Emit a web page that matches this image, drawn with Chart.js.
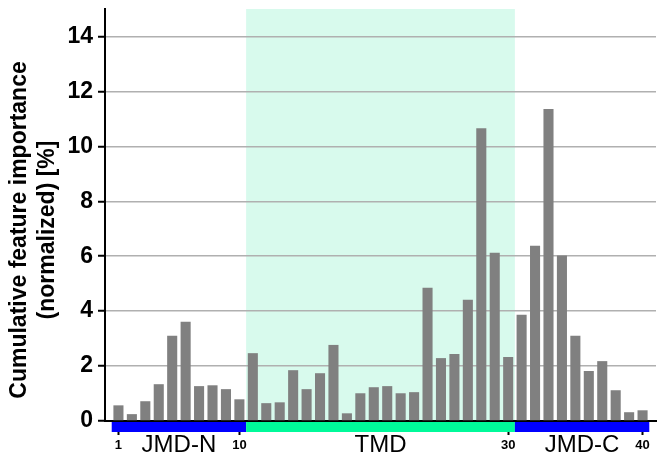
<!DOCTYPE html>
<html>
<head>
<meta charset="utf-8">
<script src="https://cdn.jsdelivr.net/npm/chart.js@4"></script>
<style>
  html, body { margin: 0; padding: 0; background: #fff; }
  #wrap { width: 666px; height: 466px; }
</style>
</head>
<body>
<div id="wrap"><canvas id="chart"></canvas></div>
<script>
// positions 1..40 and the importance
const positions = Array.from({ length: 40 }, (_, i) => i + 1)
const importance = [
    0.57, 0.25, 0.72, 1.34, 3.10, 3.61, 1.27, 1.30, 1.16, 0.79,
    2.47, 0.65, 0.68, 1.85, 1.16, 1.74, 2.77, 0.28, 1.01, 1.23,
    1.27, 1.01, 1.05, 4.85, 2.29, 2.44, 4.41, 10.66, 6.13, 2.33,
    3.87, 6.38, 11.36, 6.03, 3.10, 1.82, 2.18, 1.12, 0.32, 0.39
]
const xTicks = [1, 10, 30, 40]
const yTicks = [0, 2, 4, 6, 8, 10, 12, 14]
const yTitle = ['Cumulative feature importance', '(normalized) [%]']

// parts of the sequence
const regionNames = ['JMD-N', 'TMD', 'JMD-C']
const regionStart = [0.5, 10.5, 30.5]
const regionEnd = [10.5, 30.5, 40.5]
const regionColors = ['#0000ff', '#00fa9a', '#0000ff']

const bars = positions.map((p, i) => ({ x: p, y: importance[i] }))

//shaded TMD area, behind the grid
const tmdShade = {
    id: 'tmdShade',
    beforeDraw(chart) {
        const { ctx, chartArea, scales } = chart
        const x0 = scales.x.getPixelForValue(regionStart[1])
        const x1 = scales.x.getPixelForValue(regionEnd[1])
        ctx.save()
        ctx.fillStyle = '#d8faed'
        ctx.fillRect(x0, chartArea.top, x1 - x0, chartArea.bottom - chartArea.top)
        ctx.restore()
    }
}

//coloured band under the axis with the region names, and the y title
const regionBand = {
    id: 'regionBand',
    afterDraw(chart) {
        const { ctx, scales, chartArea } = chart
        const y0 = scales.y.getPixelForValue(0) + 1
        ctx.save()
        regionNames.forEach((name, i) => {
            const x0 = scales.x.getPixelForValue(regionStart[i])
            const x1 = scales.x.getPixelForValue(regionEnd[i])
            ctx.fillStyle = regionColors[i]
            ctx.fillRect(x0, y0, x1 - x0, 10)
            ctx.fillStyle = '#000'
            ctx.font = '24px "Liberation Sans", Arial, sans-serif'
            ctx.textAlign = 'center'
            ctx.textBaseline = 'middle'
            ctx.fillText(name, (x0 + x1) / 2, y0 + 23)
        })

        // title sits a bit lower than the middle of the plot
        const midY = (chartArea.top + chartArea.bottom) / 2 + 15
        ctx.font = 'bold 23px "Liberation Sans", Arial, sans-serif'
        ctx.textAlign = 'center'
        ctx.textBaseline = 'alphabetic'
        yTitle.forEach((line, i) => {
            ctx.save()
            ctx.translate(25.5 + i * 28, midY)
            ctx.rotate(-Math.PI / 2)
            ctx.fillText(line, 0, 0)
            ctx.restore()
        })
        ctx.restore()
    }
}

new Chart(document.getElementById('chart'), {
    type: 'bar',
    data: {
        datasets: [
            {
                data: bars,
                backgroundColor: '#808080',
                barPercentage: 0.75,
                categoryPercentage: 1
            }
        ]
    },
    options: {
        responsive: true,
        maintainAspectRatio: false,
        animation: false,
        layout: { padding: { top: 9, right: 10, left: 0, bottom: 0 } },
        plugins: {
            legend: { display: false },
            tooltip: { enabled: false }
        },
        scales: {
            x: {
                type: 'linear',
                min: 0,
                max: 41,
                offset: false,
                afterBuildTicks: scale => { scale.ticks = xTicks.map(v => ({ value: v })) },
                afterFit: scale => {
                    scale.height = 45
                    scale.paddingLeft = 0
                    scale.paddingRight = 0
                },
                grid: {
                    offset: false,
                    drawOnChartArea: false,
                    drawTicks: true,
                    tickLength: 14,
                    tickColor: '#000',
                    tickWidth: 2
                },
                border: { color: '#000', width: 2 },
                ticks: {
                    color: '#000',
                    padding: 3,
                    maxRotation: 0,
                    font: { family: '"Liberation Sans", Arial', size: 13, weight: 'bold' }
                }
            },
            y: {
                min: 0,
                max: 15,
                afterBuildTicks: scale => { scale.ticks = yTicks.map(v => ({ value: v })) },
                afterFit: scale => {
                    scale.width = 105
                    scale.paddingTop = 0
                    scale.paddingBottom = 0
                },
                grid: {
                    color: '#b0b0b0',
                    lineWidth: 1.5,
                    tickColor: '#000',
                    tickLength: 7,
                    tickWidth: 2
                },
                border: { color: '#000', width: 2 },
                ticks: {
                    color: '#000',
                    padding: 5,
                    font: { family: '"Liberation Sans", Arial', size: 23, weight: 'bold' }
                }
            }
        }
    },
    plugins: [tmdShade, regionBand]
});
</script>
</body>
</html>
